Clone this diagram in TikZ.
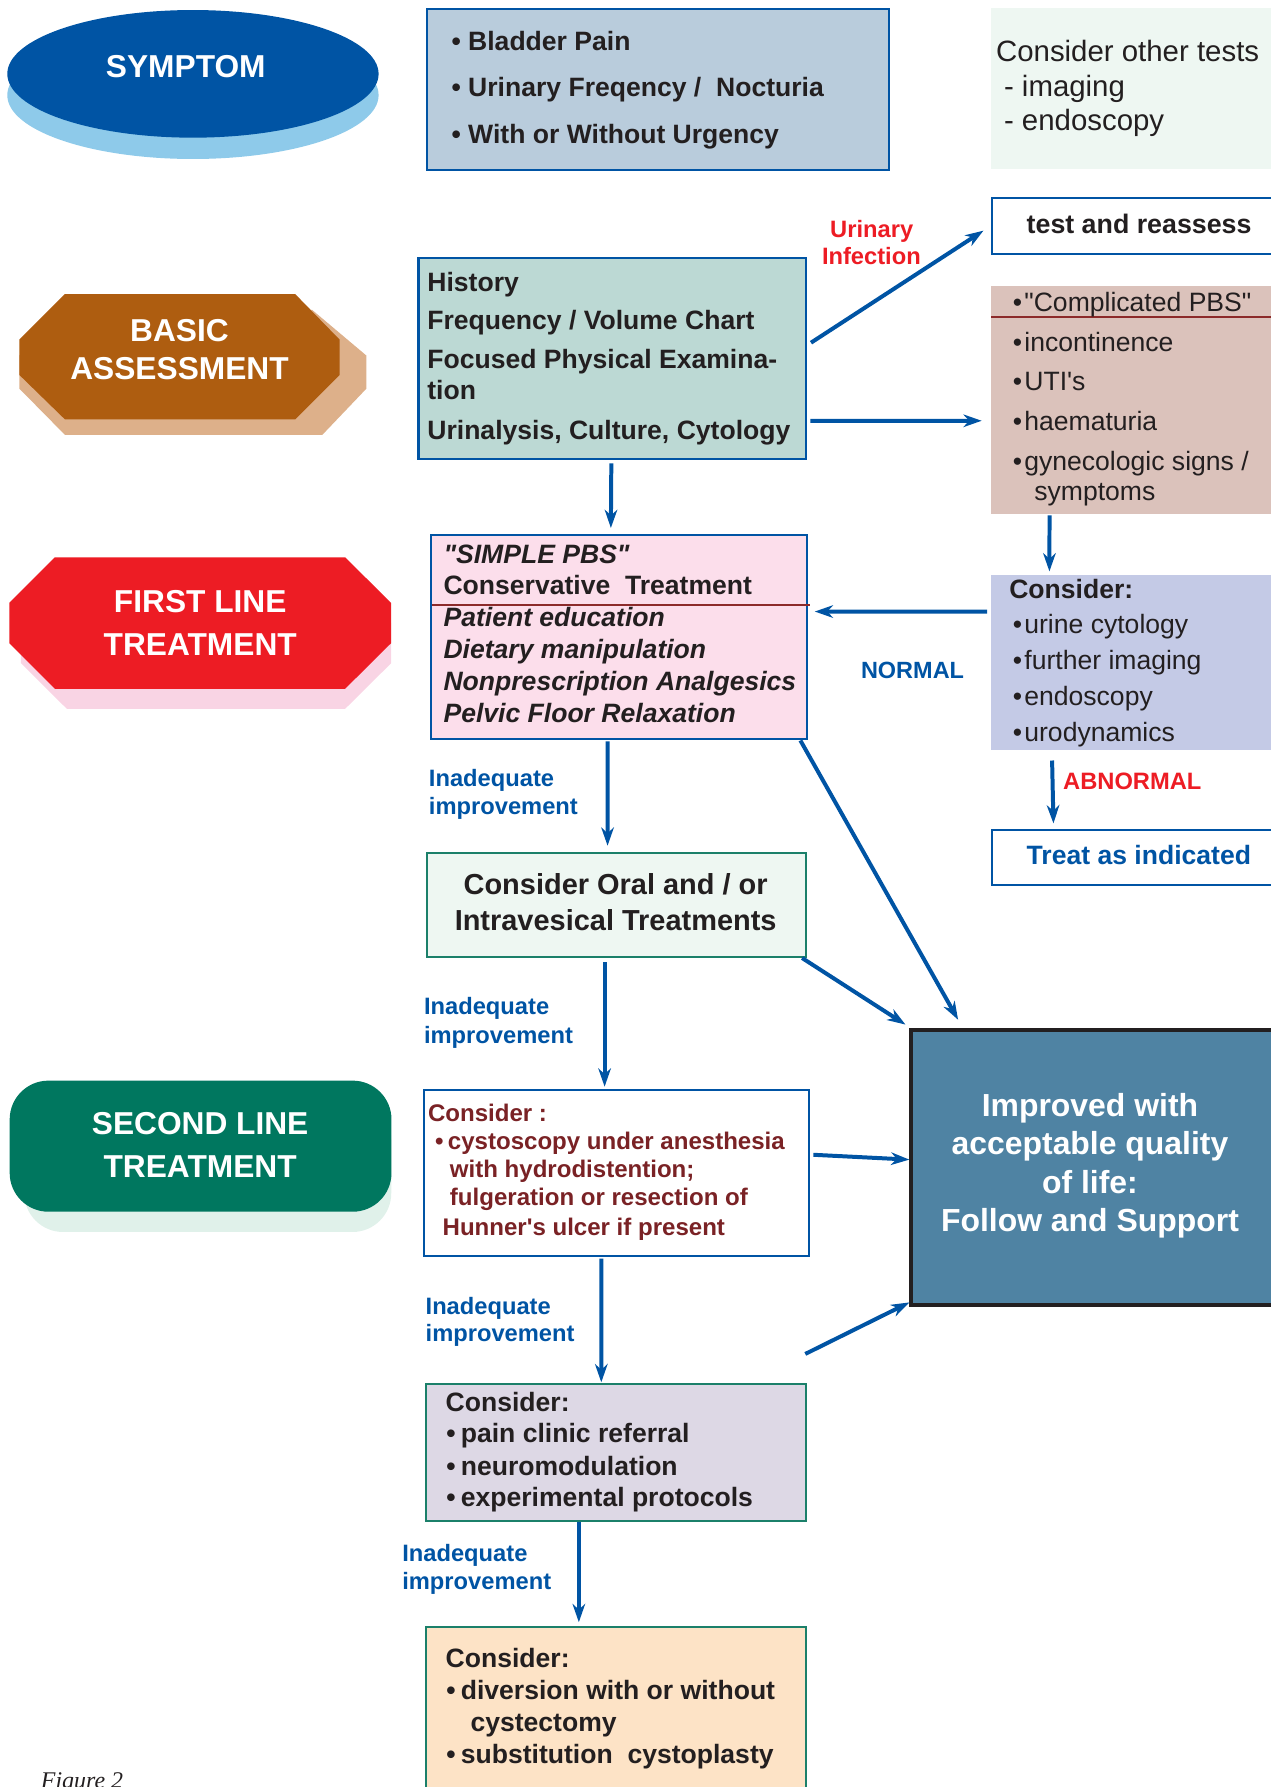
\documentclass[tikz,border=0pt]{standalone}
\usepackage{fontspec}
\setmainfont{Liberation Sans}[Ligatures=TeXOff]
\newfontfamily\figfont{Liberation Serif}
\usetikzlibrary{arrows.meta,shapes.geometric}
\definecolor{ablue}{HTML}{0054A4}
\definecolor{symshadow}{HTML}{8ECAEA}
\definecolor{bladderfill}{HTML}{B9CCDC}
\definecolor{paleg}{HTML}{EEF7F2}
\definecolor{histfill}{HTML}{BCD9D4}
\definecolor{complicfill}{HTML}{DBC2BB}
\definecolor{considfill}{HTML}{C4CAE6}
\definecolor{pinkfill}{HTML}{FCDEEB}
\definecolor{fred}{HTML}{ED1C24}
\definecolor{redshadow}{HTML}{F9D4E4}
\definecolor{brown}{HTML}{AE5D10}
\definecolor{tan}{HTML}{DDB08A}
\definecolor{green2}{HTML}{00775F}
\definecolor{green2sh}{HTML}{E0F1EA}
\definecolor{tealb}{HTML}{1B806A}
\definecolor{improvfill}{HTML}{4F83A3}
\definecolor{painfill}{HTML}{DDD8E5}
\definecolor{divfill}{HTML}{FDE3C6}
\definecolor{dred}{HTML}{7A2225}
\definecolor{redline}{HTML}{8C2A2A}
\definecolor{txt}{HTML}{231F20}
\begin{document}
\begin{tikzpicture}[x=1pt,y=-1pt,
  bx/.style={rectangle, inner sep=0pt, outer sep=0pt, anchor=north west},
  tl/.style={inner sep=0pt, anchor=base west, text=txt},
  tcen/.style={inner sep=0pt, anchor=base, text=txt},
  fb/.style={font=\fontsize{23.3}{28}\selectfont\bfseries},
  fbi/.style={font=\fontsize{23.3}{28}\selectfont\bfseries\itshape},
  fr/.style={font=\fontsize{23.3}{28}\selectfont},
  flab/.style={font=\fontsize{27.8}{32}\selectfont\bfseries, text=white},
  fsm/.style={font=\fontsize{20.8}{24}\selectfont\bfseries},
  arr/.style={draw=ablue, line width=3.5pt, -{Stealth[length=16pt,width=11pt,inset=5pt]}},
]
\useasboundingbox (0,0) rectangle (1115,1568);

% ---------- SYMPTOM ----------
\node[ellipse, fill=symshadow, inner sep=0pt, minimum width=325.8pt, minimum height=112pt] (symsh) at (169.3,83.5) {};
\node[ellipse, fill=ablue, inner sep=0pt, minimum width=325.8pt, minimum height=112pt] (symptom) at (169.3,64.8) {};
\node[tcen, flab] (symtxt) at (163,67.8) {SYMPTOM};

% ---------- BASIC ASSESSMENT ----------
\fill[tan] (17,312) -- (57,272) -- (274,272) -- (321.5,312) -- (321.5,341) -- (282.8,381.6) -- (57,381.6) -- (17,341) -- cycle;
\fill[brown] (17,298) -- (57,258) -- (259,258) -- (298,298) -- (298,329) -- (259,368) -- (57,368) -- (17,329) -- cycle;
\node[tcen, flab] (basic1) at (157.5,299.7) {BASIC};
\node[tcen, flab] (basic2) at (157.5,333.3) {ASSESSMENT};

% ---------- FIRST LINE ----------
\fill[redshadow] (18.4,546.6) -- (58.4,506.6) -- (302.8,506.6) -- (343.2,546.6) -- (343.2,581.9) -- (302.8,622) -- (58.7,622) -- (18.4,581.9) -- cycle;
\fill[fred] (8.2,529) -- (48.2,489) -- (302.8,489) -- (343.2,529) -- (343.2,564.3) -- (302.8,604.4) -- (48.2,604.4) -- (8.2,564.3) -- cycle;
\node[tcen, flab] (first1) at (175.7,537.4) {FIRST LINE};
\node[tcen, flab] (first2) at (175.7,575.4) {TREATMENT};

% ---------- SECOND LINE ----------
\node[bx, fill=green2sh, rounded corners=34pt, minimum width=322pt, minimum height=115pt] (secsh) at (21.3,966) {};
\node[bx, fill=green2, rounded corners=34pt, minimum width=335pt, minimum height=115pt] (second) at (8.5,948.2) {};
\node[tcen, flab] (sec1) at (175.6,995.6) {SECOND LINE};
\node[tcen, flab] (sec2) at (175.6,1033.6) {TREATMENT};

% ---------- Bladder box ----------
\node[bx, fill=bladderfill, draw=ablue, line width=1.8pt, minimum width=406pt, minimum height=141pt] (bladder) at (374.3,8.2) {};
\node[tl, fb] (bl1) at (396,43.9) {• Bladder Pain};
\node[tl, fb] (bl2) at (396,84.8) {• Urinary Freqency /\ \ Nocturia};
\node[tl, fb] (bl3) at (396,125.7) {• With or Without Urgency};

% ---------- Consider other tests ----------
\node[bx, fill=paleg, minimum width=250pt, minimum height=141.4pt] (other) at (869.6,6.6) {};
\node[tl, font=\fontsize{25.8}{30}\selectfont] (ot1) at (873.8,54.4) {Consider other tests};
\node[tl, font=\fontsize{25.8}{30}\selectfont] (ot2) at (880.8,84.6) {- imaging};
\node[tl, font=\fontsize{25.8}{30}\selectfont] (ot3) at (880.8,114.8) {- endoscopy};

% ---------- test and reassess ----------
\node[bx, fill=white, draw=ablue, line width=1.8pt, minimum width=250pt, minimum height=48.8pt] (test) at (870.5,173.7) {};
\node[tcen, font=\fontsize{23.5}{28}\selectfont\bfseries] (testtxt) at (999.5,204.5) {test and reassess};

% ---------- Urinary infection label ----------
\node[tcen, fsm, text=fred] (ui1) at (764.9,208.5) {Urinary};
\node[tcen, fsm, text=fred] (ui2) at (764.6,232) {Infection};

% ---------- History box ----------
\node[bx, fill=histfill, draw=ablue, line width=1.8pt, minimum width=340.4pt, minimum height=176pt] (hist) at (367.2,226.6) {};
\node[tl, fb] (h1) at (374.8,255.9) {History};
\node[tl, fb] (h2) at (374.8,289.5) {Frequency / Volume Chart};
\node[tl, fb] (h3) at (374.8,323.1) {Focused Physical Examina-};
\node[tl, fb] (h4) at (374.8,350.9) {tion};
\node[tl, fb] (h5) at (374.8,386) {Urinalysis, Culture, Cytology};

% ---------- Complicated PBS ----------
\node[bx, fill=complicfill, minimum width=250pt, minimum height=199.9pt] (complic) at (869.6,250.8) {};
\draw[redline, line width=1.8pt] (869.6,277.9) -- (1120,277.9);
\node[tl, fr] (c1) at (888.5,273.4) {•\kern2pt"Complicated PBS"};
\node[tl, fr] (c2) at (888.5,308.7) {•\kern2pt incontinence};
\node[tl, fr] (c3) at (888.5,342.9) {•\kern2pt UTI's};
\node[tl, fr] (c4) at (888.5,377.6) {•\kern2pt haematuria};
\node[tl, fr] (c5) at (888.5,412.4) {•\kern2pt gynecologic signs /};
\node[tl, fr] (c6) at (907.4,439.5) {symptoms};

% ---------- Consider (lavender) ----------
\node[bx, fill=considfill, minimum width=250pt, minimum height=154.1pt] (consid) at (869.3,504.4) {};
\node[tl, fb] (k0) at (885.4,524.9) {Consider:};
\node[tl, fr] (k1) at (888.5,555.6) {•\kern2pt urine cytology};
\node[tl, fr] (k2) at (888.5,587.7) {•\kern2pt further imaging};
\node[tl, fr] (k3) at (888.5,619) {•\kern2pt endoscopy};
\node[tl, fr] (k4) at (888.5,650.6) {•\kern2pt urodynamics};

% ---------- NORMAL / ABNORMAL ----------
\node[tl, font=\fontsize{20.6}{24}\selectfont\bfseries, text=ablue] (normal) at (755.3,595) {NORMAL};
\node[tl, fsm, text=fred] (abnormal) at (932.7,693) {ABNORMAL};

% ---------- Treat as indicated ----------
\node[bx, fill=white, draw=ablue, line width=1.8pt, minimum width=250pt, minimum height=48.5pt] (treat) at (870.8,728.4) {};
\node[tcen, fb, text=ablue] (treattxt) at (999.3,758.8) {Treat as indicated};

% ---------- SIMPLE PBS ----------
\node[bx, fill=pinkfill, draw=ablue, line width=1.8pt, minimum width=329.8pt, minimum height=178.9pt] (simple) at (378.1,469.3) {};
\draw[redline, line width=1.8pt] (379,530.7) -- (711,530.7);
\node[tl, fbi] (s1) at (389,494.2) {"SIMPLE PBS"};
\node[tl, fb] (s2) at (389,522) {Conservative\ \ Treatment};
\node[tl, fbi] (s3) at (389,549.7) {Patient education};
\node[tl, fbi] (s4) at (389,578) {Dietary manipulation};
\node[tl, fbi] (s5) at (389,605.9) {Nonprescription Analgesics};
\node[tl, fbi] (s6) at (389,633.6) {Pelvic Floor Relaxation};

% ---------- Oral box ----------
\node[bx, fill=paleg, draw=tealb, line width=1.8pt, minimum width=332.2pt, minimum height=91.2pt] (oral) at (374.8,748.5) {};
\node[tcen, font=\fontsize{25.4}{30}\selectfont\bfseries] (o1) at (540.2,785) {Consider Oral and / or};
\node[tcen, font=\fontsize{25.4}{30}\selectfont\bfseries] (o2) at (540.2,816.4) {Intravesical Treatments};

% ---------- Improved box ----------
\node[bx, fill=improvfill, draw=txt, line width=3pt, minimum width=330pt, minimum height=241.5pt] (improved) at (799.3,903.6) {};
\node[tcen, font=\fontsize{28}{32}\selectfont\bfseries, text=white] (i1) at (956.4,979.5) {Improved with};
\node[tcen, font=\fontsize{28}{32}\selectfont\bfseries, text=white] (i2) at (956.4,1013.2) {acceptable quality};
\node[tcen, font=\fontsize{28}{32}\selectfont\bfseries, text=white] (i3) at (956.4,1046.8) {of life:};
\node[tcen, font=\fontsize{28}{32}\selectfont\bfseries, text=white] (i4) at (956.4,1080.4) {Follow and Support};

% ---------- Cystoscopy box ----------
\node[bx, fill=white, draw=ablue, line width=1.8pt, minimum width=338pt, minimum height=145.5pt] (cysto) at (372.1,956.5) {};
\node[tl, font=\fontsize{21.1}{25}\selectfont\bfseries, text=dred] (y0) at (375.4,984) {Consider :};
\node[tl, font=\fontsize{21.1}{25}\selectfont\bfseries, text=dred] (y1) at (381.5,1008.8) {•\kern4pt cystoscopy under anesthesia};
\node[tl, font=\fontsize{21.1}{25}\selectfont\bfseries, text=dred] (y2) at (394.6,1033.6) {with hydrodistention;};
\node[tl, font=\fontsize{21.1}{25}\selectfont\bfseries, text=dred] (y3) at (394.6,1057.9) {fulgeration or resection of};
\node[tl, font=\fontsize{21.1}{25}\selectfont\bfseries, text=dred] (y4) at (388.2,1084.2) {Hunner's ulcer if present};

% ---------- Pain box ----------
\node[bx, fill=painfill, draw=tealb, line width=1.8pt, minimum width=333.4pt, minimum height=120.4pt] (pain) at (374.2,1214.1) {};
\node[tl, fb] (p0) at (390.9,1238.3) {Consider:};
\node[tl, fb] (p1) at (391.5,1266.1) {•\kern4.5pt pain clinic referral};
\node[tl, fb] (p2) at (391.5,1294.7) {•\kern4.5pt neuromodulation};
\node[tl, fb] (p3) at (391.5,1322.2) {•\kern4.5pt experimental protocols};

% ---------- Diversion box ----------
\node[bx, fill=divfill, draw=tealb, line width=1.8pt, minimum width=333.4pt, minimum height=160pt] (div) at (374.2,1427.8) {};
\node[tl, fb] (d0) at (390.9,1463.5) {Consider:};
\node[tl, fb] (d1) at (391.5,1491.2) {•\kern4.5pt diversion with or without};
\node[tl, fb] (d2) at (412.7,1519) {cystectomy};
\node[tl, fb] (d3) at (391.5,1547.4) {•\kern4.5pt substitution\ \ cystoplasty};

% ---------- Inadequate improvement labels ----------
\node[tl, fsm, text=ablue] (la1) at (376.2,690) {Inadequate};
\node[tl, fsm, text=ablue] (lb1) at (376.2,715) {improvement};
\node[tl, fsm, text=ablue] (la2) at (371.9,890.4) {Inadequate};
\node[tl, fsm, text=ablue] (lb2) at (371.9,915.2) {improvement};
\node[tl, fsm, text=ablue] (la3) at (373.3,1153.5) {Inadequate};
\node[tl, fsm, text=ablue] (lb3) at (373.3,1177) {improvement};
\node[tl, fsm, text=ablue] (la4) at (352.8,1370) {Inadequate};
\node[tl, fsm, text=ablue] (lb4) at (352.8,1394.7) {improvement};

% ---------- Figure label ----------
\node[tl, font=\fontsize{21}{24}\selectfont\figfont\itshape] (fig) at (35.7,1569.3) {Figure 2};

% ---------- Connectors ----------
\draw[arr] ([xshift=4pt,yshift=13.9pt]hist.east) -- ([xshift=-7.6pt,yshift=-4.3pt]test.west);
\draw[arr] ([xshift=3.4pt,yshift=-54.7pt]hist.east) -- ([xshift=-8.2pt,yshift=-18.45pt]complic.west);
\draw[arr] ([xshift=-1pt,yshift=-4pt]hist.south) -- ([xshift=-7pt,yshift=6pt]simple.north);
\draw[arr] ([xshift=-73.7pt,yshift=-1.5pt]complic.south) -- ([xshift=-73.5pt,yshift=3pt]consid.north);
\draw[arr] ([xshift=-3.2pt,yshift=44.85pt]consid.west) -- ([xshift=7pt,yshift=22.15pt]simple.east);
\draw[arr] ([xshift=-71.15pt,yshift=-8.8pt]consid.south) -- ([xshift=-71.45pt,yshift=5.9pt]treat.north);
\draw[arr] ([xshift=-5.6pt,yshift=-1.5pt]simple.south east) -- ([xshift=41.4pt,yshift=8.8pt]improved.north west);
\draw[arr] ([xshift=-3.2pt,yshift=-0.9pt]oral.south east) -- ([xshift=-4.8pt,yshift=4.6pt]improved.north west);
\draw[arr] ([xshift=-9.9pt,yshift=-2.4pt]simple.south) -- ([xshift=-7.8pt,yshift=6.4pt]oral.north);
\draw[arr] ([xshift=-10.4pt,yshift=-4.4pt]oral.south) -- ([xshift=-10.6pt,yshift=3pt]cysto.north);
\draw[arr] ([xshift=3.6pt,yshift=16pt]cysto.east) -- ([xshift=-1.4pt,yshift=6.85pt]improved.west);
\draw[arr] ([xshift=-13.5pt,yshift=-2.4pt]cysto.south) -- ([xshift=-13.3pt,yshift=1.2pt]pain.north);
\draw[arr] ([xshift=-1pt,yshift=26.1pt]pain.north east) -- ([xshift=-1.4pt,yshift=2.3pt]improved.south west);
\draw[arr] ([xshift=-33pt,yshift=-1pt]pain.south) -- ([xshift=-33pt,yshift=4.4pt]div.north);
\end{tikzpicture}
\end{document}
